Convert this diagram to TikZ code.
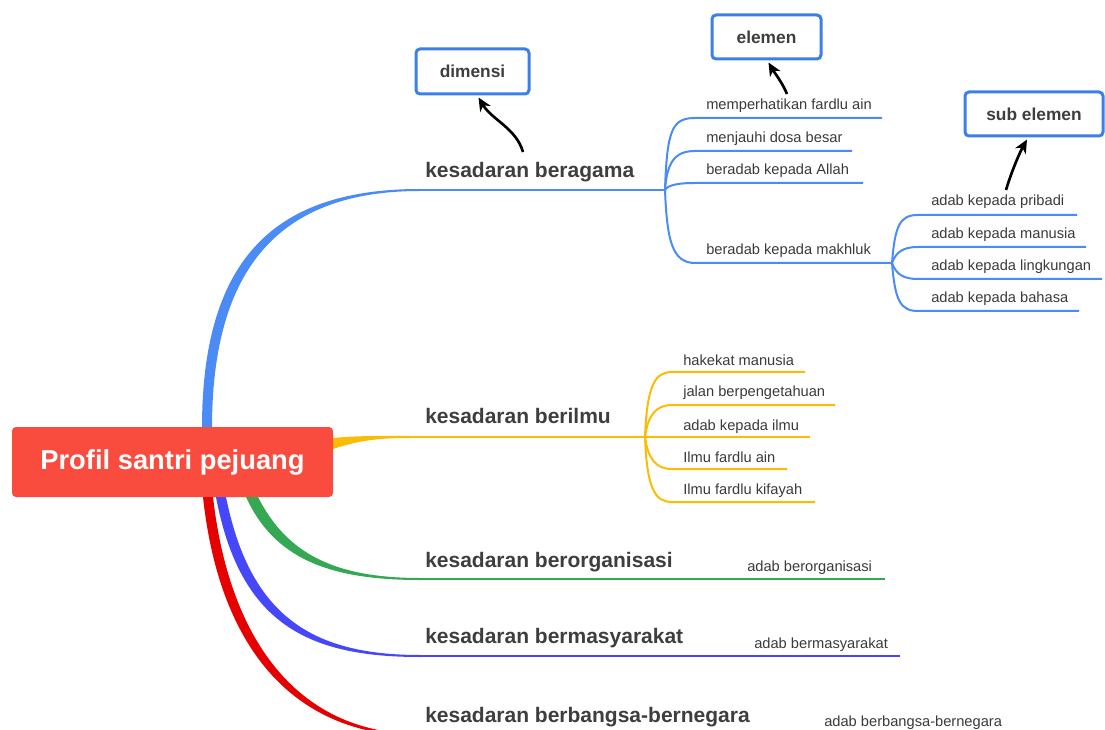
\documentclass[tikz,border=0pt]{standalone}
\usepackage{fontspec}
\setmainfont{Liberation Sans}
\usetikzlibrary{arrows.meta,calc}
\definecolor{cblue}{HTML}{4A8BF5}
\definecolor{cyellow}{HTML}{FBBC05}
\definecolor{cgreen}{HTML}{34A853}
\definecolor{cbluetwo}{HTML}{4646FA}
\definecolor{cred}{HTML}{E60000}
\definecolor{croot}{HTML}{FA4B3F}
\definecolor{cbox}{HTML}{3D7FE8}
\definecolor{ctext}{HTML}{3E3E3E}
\definecolor{csub}{HTML}{3A3A3A}
\begin{document}
\begin{tikzpicture}[x=0.75pt,y=-0.75pt,
  lbl/.style={anchor=base west, inner sep=0pt, text=ctext, font=\bfseries\fontsize{15.75}{18}\selectfont},
  subl/.style={anchor=base west, inner sep=0pt, text=csub, font=\fontsize{11}{13}\selectfont},
  callout/.style={draw=cbox, line width=2.25pt, rounded corners=3pt, fill=white, text=ctext, inner sep=0pt, font=\bfseries\fontsize{13}{15}\selectfont},
  arr/.style={-{Stealth[length=10pt,width=9pt,inset=3pt]}, line width=2pt, black},
  twig/.style={line width=1.5pt},
  rootbox/.style={fill=croot, rounded corners=3pt, text=white, inner sep=0pt, minimum width=240.75pt, minimum height=52.5pt, font=\bfseries\fontsize{20.5}{24}\selectfont}
]
\useasboundingbox (0,0) rectangle (1105,730);
\clip (0,0) rectangle (1105,730);

% ---- main branches (tapered) ----
\coordinate (bA) at (420,190);
\coordinate (bB) at (410,437);
\coordinate (bC) at (420,579);
\coordinate (bD) at (420,656);
\coordinate (bE) at (420,735);
\fill[cblue] (202,428) .. controls (202,255) and (278,189) .. (420,189) -- (420,191) .. controls (282,191) and (212,265) .. (212,428) -- cycle;
\fill[cyellow] (333,438) .. controls (360,435.5) and (380,436) .. (410,436) -- (410,438) .. controls (380,438) and (360,440) .. (333,449) -- cycle;
\fill[cgreen] (246,497) .. controls (274,558) and (328,580) .. (420,580) -- (420,578) .. controls (332,578) and (286,552) .. (258,497) -- cycle;
\fill[cbluetwo] (216,497) .. controls (240,624) and (308,657) .. (420,657) -- (420,655) .. controls (312,655) and (250,616) .. (226,497) -- cycle;
\fill[cred] (203,497) .. controls (220,654) and (298,736) .. (420,736) -- (420,734) .. controls (302,734) and (230,646) .. (213,497) -- cycle;

% forks
\coordinate (fA) at (665,190);
\coordinate (fB) at (645,437);
\coordinate (fM) at (892,263);
\draw[twig,cblue] (bA) -- (fA);
\draw[twig,cyellow] (bB) -- (fB);
\draw[twig,cgreen] (bC) -- (885,579);
\draw[twig,cbluetwo] (bD) -- (900,656);
\draw[twig,cred] (bE) -- (1010,735);

% beragama sub-branches
\draw[twig,cblue] (fA) .. controls (667,130) and (672,118) .. (695,118) -- (882,118);
\draw[twig,cblue] (fA) .. controls (667,162) and (675,151) .. (695,151) -- (852,151);
\draw[twig,cblue] (fA) .. controls (668,185) and (678,183) .. (695,183) -- (863,183);
\draw[twig,cblue] (fA) .. controls (667,240) and (672,263) .. (695,263) -- (fM);
% makhluk sub-branches
\draw[twig,cblue] (fM) .. controls (895,225) and (900,215) .. (918,215) -- (1077,215);
\draw[twig,cblue] (fM) .. controls (896,252) and (903,247) .. (918,247) -- (1086,247);
\draw[twig,cblue] (fM) .. controls (896,274) and (903,279) .. (918,279) -- (1102,279);
\draw[twig,cblue] (fM) .. controls (895,300) and (900,311) .. (918,311) -- (1079,311);
% berilmu sub-branches
\draw[twig,cyellow] (fB) .. controls (647,385) and (655,372) .. (672,372) -- (805,372);
\draw[twig,cyellow] (fB) .. controls (648,415) and (656,405) .. (672,405) -- (835,405);
\draw[twig,cyellow] (fB) -- (810,437);
\draw[twig,cyellow] (fB) .. controls (648,459) and (656,469) .. (672,469) -- (787,469);
\draw[twig,cyellow] (fB) .. controls (647,489) and (655,502) .. (672,502) -- (815,502);

% ---- root ----
\node[rootbox] (root) at (172.5,462) {Profil santri pejuang};

% ---- main labels ----
\node[lbl] (kb) at (425,178) {kesadaran beragama};
\node[lbl] (ki) at (425,423) {kesadaran berilmu};
\node[lbl] (ko) at (425,567) {kesadaran berorganisasi};
\node[lbl] (km) at (425,643) {kesadaran bermasyarakat};
\node[lbl] (kn) at (425,722) {kesadaran berbangsa-bernegara};

% ---- sub labels ----
\node[subl] (s1) at (706,110) {memperhatikan fardlu ain};
\node[subl] (s2) at (706,143) {menjauhi dosa besar};
\node[subl] (s3) at (706,175) {beradab kepada Allah};
\node[subl] (s4) at (706,255) {beradab kepada makhluk};
\node[subl] (t1) at (931,206) {adab kepada pribadi};
\node[subl] (t2) at (931,239) {adab kepada manusia};
\node[subl] (t3) at (931,271) {adab kepada lingkungan};
\node[subl] (t4) at (931,303) {adab kepada bahasa};
\node[subl] (y1) at (683,366) {hakekat manusia};
\node[subl] (y2) at (683,397) {jalan berpengetahuan};
\node[subl] (y3) at (683,430) {adab kepada ilmu};
\node[subl] (y4) at (683,462) {Ilmu fardlu ain};
\node[subl] (y5) at (683,494) {Ilmu fardlu kifayah};
\node[subl] (g1) at (747,571) {adab berorganisasi};
\node[subl] (m1) at (754,648) {adab bermasyarakat};
\node[subl] (n1) at (824,726) {adab berbangsa-bernegara};

% ---- callouts ----
\node[callout, minimum width=84.75pt, minimum height=33.75pt] (dim) at (472.5,71.5) {dimensi};
\node[callout, minimum width=81.75pt, minimum height=33pt] (ele) at (766.5,37) {elemen};
\node[callout, minimum width=103.5pt, minimum height=33pt] (sube) at (1034,114) {sub elemen};

\coordinate (a1) at (523,152);
\coordinate (a2) at (787,94);
\coordinate (a3) at (1006,190);
\draw[arr] (a1) .. controls (516,128) and (492,120) .. ($(dim.south)+(6,2)$);
\draw[arr] (a2) .. controls (782,82) and (774,72) .. ($(ele.south)+(2,2)$);
\draw[arr] (a3) .. controls (1012,170) and (1020,152) .. ($(sube.south)+(-7,2)$);
\end{tikzpicture}
\end{document}
